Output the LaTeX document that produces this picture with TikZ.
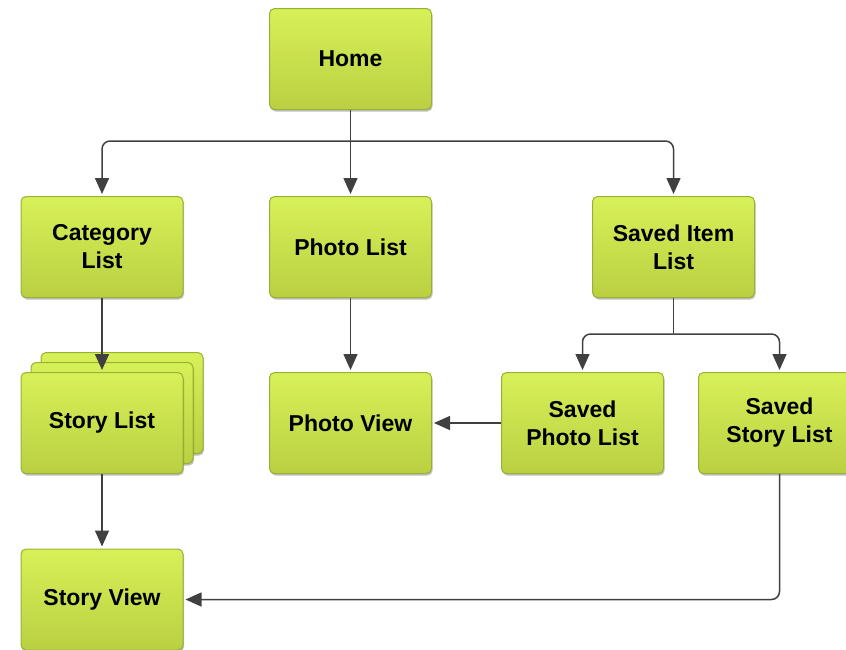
\documentclass[tikz,border=0pt]{standalone}
\usepackage{fontspec}
\setmainfont{Liberation Sans}
\usetikzlibrary{arrows.meta,calc,shadows}
\definecolor{boxtop}{RGB}{216,240,88}
\definecolor{boxbot}{RGB}{186,208,66}
\definecolor{boxline}{RGB}{150,178,52}
\definecolor{conn}{RGB}{64,64,64}
\tikzset{
  screen/.style={rectangle, rounded corners=5pt, draw=boxline, line width=1pt,
    top color=boxtop, bottom color=boxbot, minimum width=162pt, minimum height=101pt,
    inner sep=0pt, align=center, font=\fontsize{23}{28}\selectfont\bfseries,
    drop shadow={shadow xshift=1pt, shadow yshift=-2pt, opacity=0.25, fill=black}},
  arr/.style={draw=conn, line width=1.5pt, rounded corners=8pt, shorten >=2pt,
    -{Triangle[width=14pt,length=16pt]}},
  lin/.style={draw=conn, line width=1.5pt, rounded corners=8pt}
}
\begin{document}
\begin{tikzpicture}[x=1pt,y=-1pt]
\useasboundingbox (0,0) rectangle (846,649);
% nodes
\node[screen] (home) at (350.5,59) {Home};
\node[screen] (cat) at (102,247) {Category\\List};
\node[screen] (plist) at (350.5,247) {Photo List};
\node[screen] (saved) at (673.5,247) {Saved Item\\List};
\node[screen] (sl3) at (122,403) {};
\node[screen] (sl2) at (112,413) {};
\node[screen] (slist) at (102,423) {Story List};
\node[screen] (pview) at (350.5,423) {Photo View};
\node[screen] (sphoto) at (582.5,423) {Saved\\Photo List};
\node[screen] (sstory) at (779.5,423) {Saved\\Story List};
\node[screen] (sview) at (102,599.5) {Story View};
% junctions
\coordinate (j1) at ($(home.south)+(0,31)$);
\coordinate (j2) at ($(saved.south)+(0,36)$);
% connectors
\draw[arr] (home.south) -- (plist.north);
\draw[arr] (j1) -| (cat.north);
\draw[arr] (j1) -| (saved.north);
\draw[lin] (saved.south) -- (j2);
\draw[arr] (j2) -| (sphoto.north);
\draw[arr] (j2) -| (sstory.north);
\draw[arr] (cat.south) -- (slist.north);
\draw[arr] (plist.south) -- (pview.north);
\draw[arr] (sphoto.west) -- (pview.east);
\draw[arr] (slist.south) -- (sview.north);
\draw[arr] (sstory.south) |- (sview.east);
\end{tikzpicture}
\end{document}
